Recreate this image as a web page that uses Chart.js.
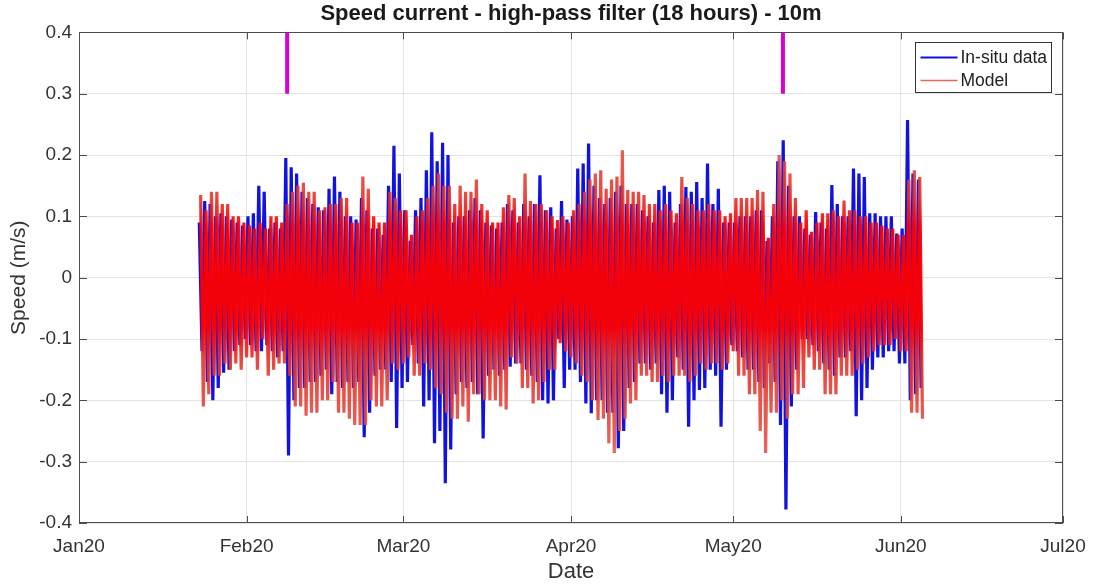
<!DOCTYPE html>
<html lang="en">
<head>
<meta charset="UTF-8">
<title>Speed current - high-pass filter (18 hours) - 10m</title>
<script src="https://cdn.jsdelivr.net/npm/chart.js"></script>
<style>
  html, body { margin: 0; padding: 0; background: #ffffff; }
  #wrap { width: 1098px; height: 585px; }
</style>
</head>
<body>
<div id="wrap"><canvas id="speedChart" width="1098" height="585"></canvas></div>
<script>
// x axis is in days since 1 Jan 2020
const monthStarts = [0, 31, 60, 91, 121, 152, 182];
const monthLabels = ['Jan20', 'Feb20', 'Mar20', 'Apr20', 'May20', 'Jun20', 'Jul20'];

// daily peak / trough of each series, first entry = day 22 (23 Jan)
const firstDay = 22;
const insituHigh = [
  0.09, 0.125, 0.12, 0.10, 0.105, 0.10, 0.095, 0.09, 0.085, 0.10,
  0.105, 0.15, 0.14, 0.08, 0.09, 0.08, 0.195, 0.18, 0.17, 0.14,
  0.13, 0.12, 0.115, 0.11, 0.145, 0.165, 0.14, 0.10, 0.10, 0.095,
  0.13, 0.11, 0.08, 0.08, 0.07, 0.15, 0.215, 0.17, 0.11, 0.06,
  0.11, 0.13, 0.175, 0.237, 0.19, 0.22, 0.20, 0.09, 0.10, 0.10,
  0.11, 0.13, 0.11, 0.09, 0.085, 0.08, 0.09, 0.12, 0.11, 0.09,
  0.12, 0.10, 0.12, 0.167, 0.11, 0.115, 0.08, 0.125, 0.095, 0.10,
  0.178, 0.186, 0.219, 0.15, 0.13, 0.12, 0.13, 0.14, 0.15, 0.12,
  0.12, 0.12, 0.11, 0.10, 0.09, 0.143, 0.15, 0.14, 0.09, 0.12,
  0.148, 0.14, 0.156, 0.13, 0.186, 0.12, 0.145, 0.09, 0.09, 0.09,
  0.10, 0.10, 0.10, 0.11, 0.11, 0.06, 0.10, 0.19, 0.224, 0.15,
  0.10, 0.10, 0.08, 0.07, 0.107, 0.09, 0.08, 0.151, 0.12, 0.10,
  0.10, 0.178, 0.17, 0.164, 0.105, 0.105, 0.10, 0.10, 0.10, 0.072,
  0.08, 0.257, 0.17, 0.16
];
const insituLow = [
  -0.12, -0.17, -0.20, -0.18, -0.155, -0.15, -0.12, -0.11, -0.10, -0.11,
  -0.12, -0.12, -0.11, -0.12, -0.13, -0.12, -0.29, -0.20, -0.18, -0.18,
  -0.17, -0.17, -0.16, -0.15, -0.19, -0.17, -0.18, -0.17, -0.18, -0.17,
  -0.26, -0.22, -0.16, -0.15, -0.15, -0.17, -0.245, -0.18, -0.17, -0.11,
  -0.14, -0.21, -0.20, -0.27, -0.25, -0.335, -0.28, -0.19, -0.17, -0.18,
  -0.17, -0.19, -0.262, -0.16, -0.15, -0.16, -0.15, -0.145, -0.14, -0.14,
  -0.15, -0.16, -0.17, -0.20, -0.205, -0.20, -0.10, -0.18, -0.15, -0.15,
  -0.17, -0.205, -0.221, -0.20, -0.20, -0.22, -0.22, -0.278, -0.25, -0.18,
  -0.17, -0.14, -0.14, -0.15, -0.14, -0.19, -0.22, -0.20, -0.13, -0.15,
  -0.243, -0.20, -0.183, -0.18, -0.15, -0.16, -0.243, -0.15, -0.11, -0.12,
  -0.13, -0.15, -0.15, -0.17, -0.18, -0.14, -0.17, -0.24, -0.378, -0.21,
  -0.15, -0.10, -0.10, -0.11, -0.12, -0.14, -0.15, -0.16, -0.13, -0.13,
  -0.12, -0.226, -0.20, -0.18, -0.15, -0.13, -0.13, -0.12, -0.12, -0.14,
  -0.14, -0.20, -0.19, -0.18
];
const modelHigh = [
  0.135, 0.11, 0.14, 0.14, 0.12, 0.12, 0.10, 0.10, 0.09, 0.085,
  0.08, 0.09, 0.08, 0.10, 0.10, 0.09, 0.12, 0.14, 0.15, 0.155,
  0.14, 0.14, 0.11, 0.115, 0.12, 0.12, 0.13, 0.13, 0.09, 0.09,
  0.165, 0.145, 0.10, 0.09, 0.09, 0.14, 0.13, 0.11, 0.11, 0.07,
  0.10, 0.11, 0.13, 0.15, 0.17, 0.15, 0.15, 0.12, 0.15, 0.14,
  0.14, 0.16, 0.12, 0.11, 0.09, 0.09, 0.115, 0.135, 0.13, 0.10,
  0.17, 0.125, 0.12, 0.12, 0.11, 0.10, 0.094, 0.10, 0.09, 0.11,
  0.12, 0.14, 0.16, 0.17, 0.175, 0.145, 0.16, 0.165, 0.208, 0.143,
  0.14, 0.14, 0.135, 0.12, 0.12, 0.11, 0.12, 0.11, 0.105, 0.164,
  0.13, 0.12, 0.11, 0.11, 0.12, 0.11, 0.11, 0.10, 0.105, 0.13,
  0.13, 0.13, 0.13, 0.143, 0.14, 0.065, 0.12, 0.20, 0.19, 0.17,
  0.13, 0.09, 0.11, 0.075, 0.09, 0.105, 0.105, 0.11, 0.10, 0.126,
  0.11, 0.11, 0.10, 0.10, 0.09, 0.09, 0.085, 0.08, 0.08, 0.07,
  0.07, 0.16, 0.175, 0.164
];
const modelLow = [
  -0.21, -0.19, -0.16, -0.16, -0.14, -0.15, -0.14, -0.15, -0.13, -0.13,
  -0.15, -0.10, -0.16, -0.15, -0.14, -0.14, -0.16, -0.21, -0.21, -0.225,
  -0.22, -0.22, -0.20, -0.20, -0.17, -0.22, -0.22, -0.23, -0.24, -0.24,
  -0.24, -0.20, -0.21, -0.21, -0.20, -0.14, -0.15, -0.14, -0.13, -0.16,
  -0.16, -0.14, -0.15, -0.18, -0.19, -0.22, -0.23, -0.23, -0.21, -0.235,
  -0.19, -0.19, -0.20, -0.20, -0.20, -0.21, -0.215, -0.13, -0.14, -0.18,
  -0.18, -0.205, -0.20, -0.17, -0.15, -0.15, -0.107, -0.12, -0.13, -0.14,
  -0.16, -0.17, -0.20, -0.232, -0.23, -0.27, -0.286, -0.25, -0.23, -0.205,
  -0.20, -0.16, -0.16, -0.17, -0.17, -0.16, -0.17, -0.16, -0.16, -0.16,
  -0.17, -0.16, -0.14, -0.15, -0.14, -0.14, -0.15, -0.14, -0.12, -0.16,
  -0.16, -0.19, -0.19, -0.25, -0.286, -0.22, -0.22, -0.20, -0.23, -0.19,
  -0.19, -0.18, -0.13, -0.15, -0.15, -0.19, -0.19, -0.19, -0.16, -0.16,
  -0.16, -0.15, -0.14, -0.13, -0.12, -0.11, -0.11, -0.11, -0.10, -0.12,
  -0.12, -0.22, -0.22, -0.23
];

// magenta event markers (day, and the y span they cover)
const eventDays = [38.5, 130.2];
const eventSpan = [0.3, 0.4];

const FONT = "'Liberation Sans', Arial, Helvetica, sans-serif";
const TEXT = '#333333';
const BLUE = '#1212e0';
const SALMON = 'rgb(226, 104, 92)';

// zigzag: peak then trough each day, model shifted by a quarter day
const insituPoints = [];
const modelPoints = [];
insituHigh.forEach((h, i) => {
  const d = firstDay + i;
  insituPoints.push({ x: d + 0.25, y: h }, { x: d + 0.75, y: insituLow[i] });
  modelPoints.push({ x: d + 0.5, y: modelHigh[i] }, { x: d + 1.0, y: modelLow[i] });
});

function modelStroke(context) {
  const chart = context.chart;
  if (!chart.chartArea) return 'rgba(235, 40, 30, 0.8)';
  const y = chart.scales.y;
  const g = chart.ctx.createLinearGradient(0, y.getPixelForValue(0.25), 0, y.getPixelForValue(-0.35));
  g.addColorStop(0, 'rgba(224, 92, 80, 0.9)');
  g.addColorStop(0.2, 'rgba(232, 50, 42, 0.9)');
  g.addColorStop(0.28, 'rgba(255, 0, 0, 0.95)');
  g.addColorStop(0.55, 'rgba(255, 0, 0, 0.95)');
  g.addColorStop(0.64, 'rgba(232, 50, 42, 0.9)');
  g.addColorStop(1, 'rgba(224, 100, 88, 0.9)');
  return g;
}

const eventSets = eventDays.map(d => ({
  label: 'event',
  data: [{ x: d, y: eventSpan[0] }, { x: d, y: eventSpan[1] }],
  borderColor: '#d800d8',
  borderWidth: 4,
  borderCapStyle: 'butt',
  pointRadius: 0,
  order: 0
}));

// box, inward ticks and legend drawn over the data like MATLAB does
const framePlugin = {
  id: 'frame',
  afterDatasetsDraw(chart) {
    const { ctx, chartArea: a, scales: { x, y } } = chart;
    ctx.save();
    ctx.strokeStyle = '#4d4d4d';
    ctx.lineWidth = 1;
    ctx.strokeRect(Math.round(a.left) + 0.5, Math.round(a.top) + 0.5,
      Math.round(a.width) - 1, Math.round(a.height) - 1);
    ctx.beginPath();
    monthStarts.forEach(v => {
      const px = Math.round(x.getPixelForValue(v)) + 0.5;
      ctx.moveTo(px, a.bottom); ctx.lineTo(px, a.bottom - 7);
      ctx.moveTo(px, a.top); ctx.lineTo(px, a.top + 7);
    });
    y.ticks.forEach(t => {
      const py = Math.round(y.getPixelForValue(t.value)) + 0.5;
      ctx.moveTo(a.left, py); ctx.lineTo(a.left + 8, py);
      ctx.moveTo(a.right, py); ctx.lineTo(a.right - 8, py);
    });
    ctx.stroke();

    // legend
    const bw = 136, bh = 50;
    const bx = Math.round(a.right - 12 - bw) + 0.5;
    const by = Math.round(a.top + 10) + 0.5;
    ctx.fillStyle = '#ffffff';
    ctx.fillRect(bx, by, bw, bh);
    ctx.strokeStyle = '#333333';
    ctx.strokeRect(bx, by, bw, bh);
    const entries = [
      { text: chart.data.datasets[0].label, color: BLUE, width: 2 },
      { text: chart.data.datasets[1].label, color: SALMON, width: 1.5 }
    ];
    ctx.font = '17.5px ' + FONT;
    ctx.textBaseline = 'middle';
    ctx.textAlign = 'left';
    entries.forEach((e, i) => {
      const ly = by + 15 + i * 23;
      ctx.strokeStyle = e.color;
      ctx.lineWidth = e.width;
      ctx.beginPath();
      ctx.moveTo(bx + 5, ly); ctx.lineTo(bx + 42, ly);
      ctx.stroke();
      ctx.fillStyle = '#222222';
      ctx.fillText(e.text, bx + 45, ly + 1);
    });
    ctx.restore();
  }
};

new Chart(document.getElementById('speedChart'), {
  type: 'line',
  data: {
    datasets: [
      {
        label: 'In-situ data',
        data: insituPoints,
        borderColor: BLUE,
        borderWidth: 3.2,
        pointRadius: 0,
        tension: 0,
        order: 2
      },
      {
        label: 'Model',
        data: modelPoints,
        borderColor: modelStroke,
        borderWidth: 3.2,
        pointRadius: 0,
        tension: 0,
        order: 1
      },
      ...eventSets
    ]
  },
  options: {
    responsive: false,
    animation: false,
    layout: { padding: { left: 0, right: 35, top: 0, bottom: 0 } },
    plugins: {
      legend: { display: false },
      tooltip: { enabled: false },
      title: {
        display: true,
        fullSize: false,
        text: 'Speed current - high-pass filter (18 hours) - 10m',
        color: '#1a1a1a',
        font: { family: FONT, size: 22, weight: 'bold' },
        padding: { top: 1, bottom: 5 }
      }
    },
    scales: {
      x: {
        type: 'linear',
        min: 0,
        max: 182,
        afterBuildTicks: s => { s.ticks = monthStarts.map(v => ({ value: v })); },
        afterFit: s => { s.height = 62; },
        ticks: {
          callback: (v, i) => monthLabels[i],
          color: TEXT,
          font: { family: FONT, size: 19 },
          padding: 12,
          maxRotation: 0,
          autoSkip: false
        },
        grid: { color: '#e3e3e3', drawTicks: false },
        border: { display: false },
        title: {
          display: true,
          text: 'Date',
          color: TEXT,
          font: { family: FONT, size: 22 },
          padding: { top: 0, bottom: 0 }
        }
      },
      y: {
        min: -0.4,
        max: 0.4,
        afterFit: s => { s.width = 79; },
        ticks: {
          stepSize: 0.1,
          callback: v => {
            const r = Math.round(v * 10) / 10;
            return r === 0 ? '0' : r.toFixed(1);
          },
          color: TEXT,
          font: { family: FONT, size: 19 },
          padding: 7
        },
        grid: { color: '#e3e3e3', drawTicks: false },
        border: { display: false },
        title: {
          display: true,
          text: 'Speed (m/s)',
          color: TEXT,
          font: { family: FONT, size: 21 },
          padding: { top: 7, bottom: 0 }
        }
      }
    }
  },
  plugins: [framePlugin]
});
</script>
</body>
</html>
